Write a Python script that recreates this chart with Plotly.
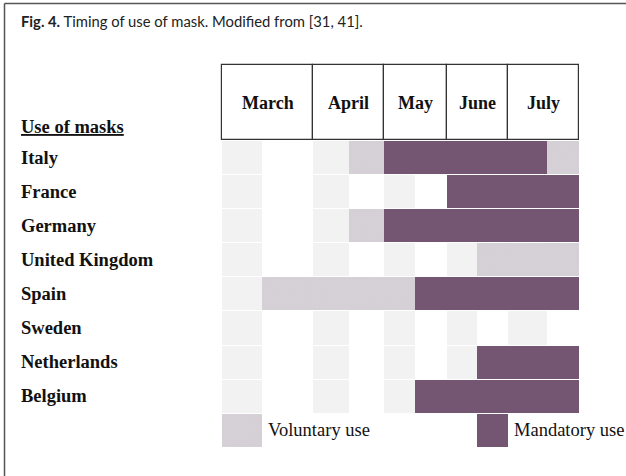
import plotly.graph_objects as go

# ---------------- data ----------------
countries = ["Italy", "France", "Germany", "United Kingdom", "Spain",
             "Sweden", "Netherlands", "Belgium"]
months = ["March", "April", "May", "June", "July"]

# segments in half-month periods (0 = early March ... 9 = late July)
vol_country = ["Italy", "Italy", "Germany", "United Kingdom", "Spain"]
vol_start = [3, 9, 3, 7, 1]
vol_end = [4, 10, 4, 10, 5]

mand_country = ["Italy", "France", "Germany", "Spain", "Netherlands", "Belgium"]
mand_start = [4, 6, 4, 5, 7, 5]
mand_end = [9, 10, 10, 10, 10, 10]

title_bold = "Fig. 4."
title_rest = " Timing of use of mask. Modified from [31, 41]."
row_header = "Use of masks"
legend_labels = ["Voluntary use", "Mandatory use"]

# ---------------- layout constants ----------------
W, H = 626, 476
X0 = 222                                    # left edge of the month table (px)
ROW0, PITCH = 157.5, 34.1                   # first row centre, row pitch (px)
col_edges = [0, 40, 91, 127, 162, 193, 225, 255, 286, 325, 357]  # x-scale of the 10 half-month columns

PURPLE = "#745672"
LILAC = "#d6d0d7"
GREY = "#f2f2f2"
SERIF = "Liberation Serif, Times New Roman, serif"
SANS = "Lato, sans-serif"


def ypx(p):
    return (p - ROW0) / PITCH


def xpx(p):
    return p - X0


row_of = {c: i for i, c in enumerate(countries)}
BW = 0.97

fig = go.Figure()

# light grey background cells (first half of every month)
g_y, g_base, g_w = [], [], []
for r in range(len(countries)):
    for k in range(0, 10, 2):
        g_y.append(r)
        g_base.append(col_edges[k])
        g_w.append(col_edges[k + 1] - col_edges[k])
fig.add_trace(go.Bar(orientation="h", y=g_y, base=g_base, x=g_w, width=BW,
                     marker=dict(color=GREY, line=dict(width=0)),
                     hoverinfo="skip", showlegend=False))

# voluntary segments (+ legend swatch)
v_y = [row_of[c] for c in vol_country] + [len(countries)]
v_base = [col_edges[s] for s in vol_start] + [col_edges[0]]
v_w = [col_edges[e] - col_edges[s] for s, e in zip(vol_start, vol_end)] + [col_edges[1] - col_edges[0]]
fig.add_trace(go.Bar(orientation="h", y=v_y, base=v_base, x=v_w, width=BW,
                     marker=dict(color=LILAC, line=dict(width=0),
                                 pattern=dict(shape="/", fgcolor="#c9c2ca", bgcolor=LILAC,
                                              size=3, solidity=0.15)),
                     hoverinfo="skip", showlegend=False))

# mandatory segments (+ legend swatch)
m_y = [row_of[c] for c in mand_country] + [len(countries)]
m_base = [col_edges[s] for s in mand_start] + [col_edges[7]]
m_w = [col_edges[e] - col_edges[s] for s, e in zip(mand_start, mand_end)] + [col_edges[8] - col_edges[7]]
fig.add_trace(go.Bar(orientation="h", y=m_y, base=m_base, x=m_w, width=BW,
                     marker=dict(color=PURPLE, line=dict(width=0)),
                     hoverinfo="skip", showlegend=False))

# header cells
hy_top, hy_bot = ypx(65), ypx(140)
h_base = [col_edges[2 * k] for k in range(len(months))]
h_w = [col_edges[2 * k + 2] - col_edges[2 * k] for k in range(len(months))]
fig.add_trace(go.Bar(orientation="h", y=[(hy_top + hy_bot) / 2] * len(months), base=h_base, x=h_w,
                     width=hy_bot - hy_top,
                     marker=dict(color="white", line=dict(width=1.2, color="#333333")),
                     hoverinfo="skip", showlegend=False))

annotations = []
for k, m in enumerate(months):
    annotations.append(dict(x=(col_edges[2 * k] + col_edges[2 * k + 2]) / 2, y=(hy_top + hy_bot) / 2,
                            xref="x", yref="y", text=f"<b>{m}</b>", showarrow=False,
                            xanchor="center", yanchor="middle",
                            font=dict(family=SERIF, size=18, color="#111")))

annotations.append(dict(x=xpx(19), y=ypx(127), xref="x", yref="y",
                        text=f"<b><u>{row_header}</u></b>", showarrow=False,
                        xanchor="left", yanchor="middle",
                        font=dict(family=SERIF, size=18.5, color="#111")))
for i, c in enumerate(countries):
    annotations.append(dict(x=xpx(19), y=i, xref="x", yref="y", text=f"<b>{c}</b>",
                            showarrow=False, xanchor="left", yanchor="middle",
                            font=dict(family=SERIF, size=18.5, color="#111")))

legend_x = [xpx(266), xpx(512)]
for lx, lab in zip(legend_x, legend_labels):
    annotations.append(dict(x=lx, y=len(countries), xref="x", yref="y", text=lab,
                            showarrow=False, xanchor="left", yanchor="middle",
                            font=dict(family=SERIF, size=18.5, color="#111")))

annotations.append(dict(x=xpx(19), y=ypx(21), xref="x", yref="y",
                        text=f"<b>{title_bold}</b>{title_rest}", showarrow=False,
                        xanchor="left", yanchor="middle",
                        font=dict(family=SANS, size=14.8, color="#222")))

shapes = [
    dict(type="line", xref="x", yref="y", x0=xpx(4.5), x1=xpx(W),
         y0=ypx(3.5), y1=ypx(3.5), line=dict(color="#555", width=1.5)),
    dict(type="line", xref="x", yref="y", x0=xpx(4.5), x1=xpx(4.5),
         y0=ypx(3.5), y1=ypx(H), line=dict(color="#555", width=1.5)),
]

fig.update_layout(
    width=W, height=H,
    margin=dict(l=0, r=0, t=0, b=0, pad=0),
    paper_bgcolor="white", plot_bgcolor="white",
    barmode="overlay", bargap=0,
    xaxis=dict(range=[xpx(0), xpx(W)], visible=False, fixedrange=True),
    yaxis=dict(range=[ypx(H), ypx(0)], visible=False, fixedrange=True),
    annotations=annotations, shapes=shapes,
    showlegend=False,
)

fig.write_html("out.html", post_script="document.body.style.margin='0';",
               config={"displayModeBar": False})
